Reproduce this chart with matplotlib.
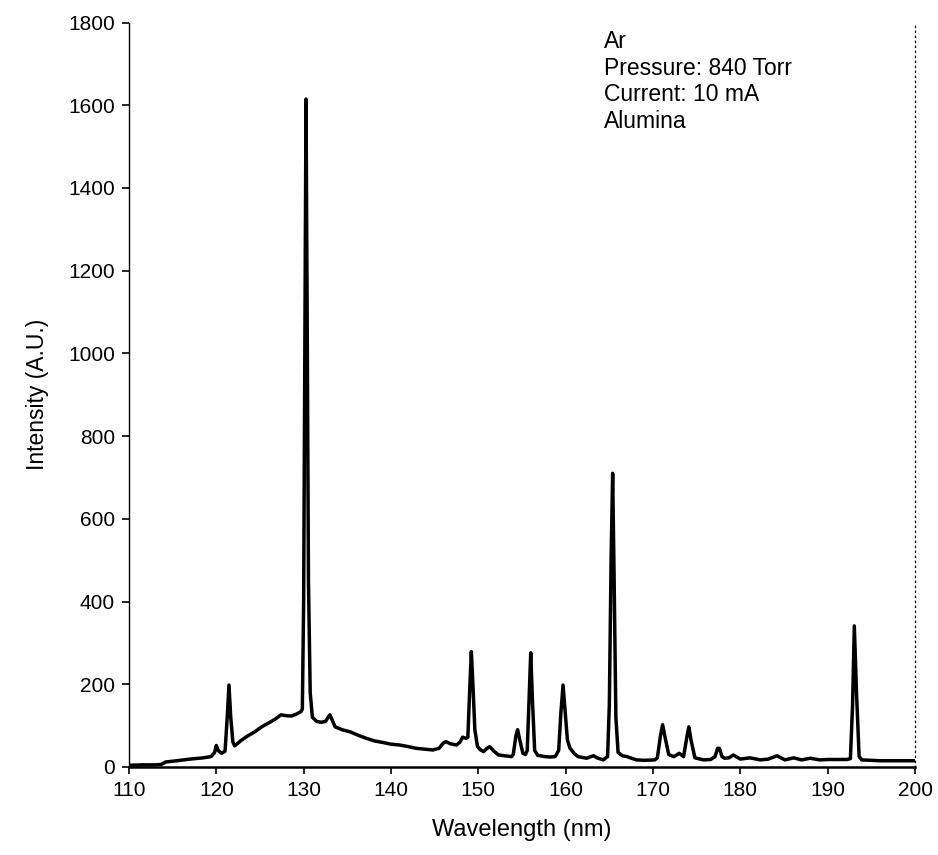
import numpy as np
import matplotlib
matplotlib.use("Agg")
import matplotlib.pyplot as plt

plt.rcParams["font.family"] = ["Liberation Sans", "DejaVu Sans"]

# values
wavelength = [110.0, 111.5, 113.0, 113.7, 114.2, 115.5, 117.0, 118.5, 119.4, 119.8, 120.0, 120.2, 120.6,
              121.0, 121.25, 121.45, 121.65, 121.9, 122.1, 122.9, 123.6, 124.4, 125.2, 125.8, 126.3,
              126.9, 127.4, 128.0, 128.6, 129.2, 129.7, 129.85, 130.0, 130.15, 130.27, 130.4, 130.55,
              130.75, 131.0, 131.5, 132.0, 132.5, 132.8, 133.0, 133.3, 133.6, 134.4, 135.3, 136.2,
              137.2, 138.1, 139.1, 140.0, 141.0, 142.0, 142.9, 143.8, 144.8, 145.5, 146.0, 146.3,
              146.8, 147.5, 147.9, 148.2, 148.6, 148.8, 149.0, 149.2, 149.4, 149.6, 149.9, 150.2,
              150.6, 151.0, 151.3, 151.8, 152.3, 153.0, 153.8, 154.0, 154.3, 154.5, 154.75, 155.1,
              155.4, 155.6, 155.8, 156.0, 156.2, 156.45, 156.8, 157.6, 158.2, 158.8, 159.2, 159.45,
              159.7, 159.95, 160.2, 160.5, 161.0, 161.4, 162.4, 162.9, 163.2, 163.6, 164.3, 164.8,
              165.0, 165.2, 165.38, 165.55, 165.75, 166.0, 166.5, 167.0, 168.1, 169.0, 170.2, 170.5,
              170.85, 171.1, 171.4, 171.8, 172.4, 173.0, 173.5, 173.9, 174.1, 174.35, 174.8, 175.8,
              176.6, 177.1, 177.4, 177.6, 177.9, 178.2, 178.7, 179.2, 180.0, 181.1, 182.3, 183.2,
              184.2, 185.1, 186.1, 187.0, 188.0, 189.1, 190.0, 191.2, 192.2, 192.6, 192.85, 193.05,
              193.3, 193.6, 193.9, 195.0, 196.0, 198.0, 200.0]
intensity = [4, 5, 5, 6, 12, 15, 19, 22, 25, 35, 52, 40, 33,
             38, 120, 198, 120, 60, 51, 65, 75, 85, 97, 104, 110,
             118, 126, 124, 123, 128, 134, 140, 400, 1100, 1615, 1100, 450,
             180, 120, 110, 108, 110, 120, 126, 112, 97, 90, 85, 77,
             69, 63, 59, 55, 53, 49, 45, 43, 41, 45, 58, 61,
             56, 53, 60, 72, 69, 72, 180, 279, 190, 90, 50, 42,
             37, 45, 49, 38, 29, 27, 25, 30, 75, 90, 65, 33,
             30, 40, 160, 276, 160, 40, 28, 25, 24, 25, 40, 130,
             198, 130, 65, 45, 32, 25, 21, 25, 27, 22, 17, 25,
             150, 500, 710, 450, 120, 35, 27, 25, 17, 16, 17, 22,
             75, 102, 70, 30, 25, 33, 25, 75, 97, 65, 22, 17,
             18, 25, 45, 45, 25, 21, 22, 29, 19, 22, 17, 19,
             27, 17, 22, 17, 21, 17, 18, 18, 18, 20, 150, 341,
             180, 25, 17, 16, 15, 15, 15]

x_ticks = [110, 120, 130, 140, 150, 160, 170, 180, 190, 200]
y_ticks = [0, 200, 400, 600, 800, 1000, 1200, 1400, 1600, 1800]
notes = ["Ar", "Pressure: 840 Torr", "Current: 10 mA", "Alumina"]

fig = plt.figure(figsize=(9.38, 8.55), dpi=100)
ax = fig.add_axes([0.1375, 0.103, 0.838, 0.8706])

ax.plot(wavelength, intensity, color="black", lw=2.5)

ax.set_xlim(110, 200)
ax.set_ylim(0, 1800)
ax.set_xticks(x_ticks)
ax.set_yticks(y_ticks)
ax.tick_params(direction="out", length=5, width=1.2, labelsize=15, colors="black", pad=5)

ax.spines["top"].set_visible(False)
ax.spines["right"].set_linestyle((0, (1, 3)))
ax.spines["right"].set_linewidth(0.9)
ax.spines["left"].set_linewidth(1.0)
ax.spines["bottom"].set_linewidth(1.8)

ax.set_xlabel("Wavelength (nm)", fontsize=17, labelpad=14)
ax.set_ylabel("Intensity (A.U.)", fontsize=16.5, labelpad=14)

ax.text(0.604, 0.99, "\n".join(notes), transform=ax.transAxes, fontsize=16.5,
        va="top", ha="left", linespacing=1.2)

fig.savefig("out.png", dpi=100)
